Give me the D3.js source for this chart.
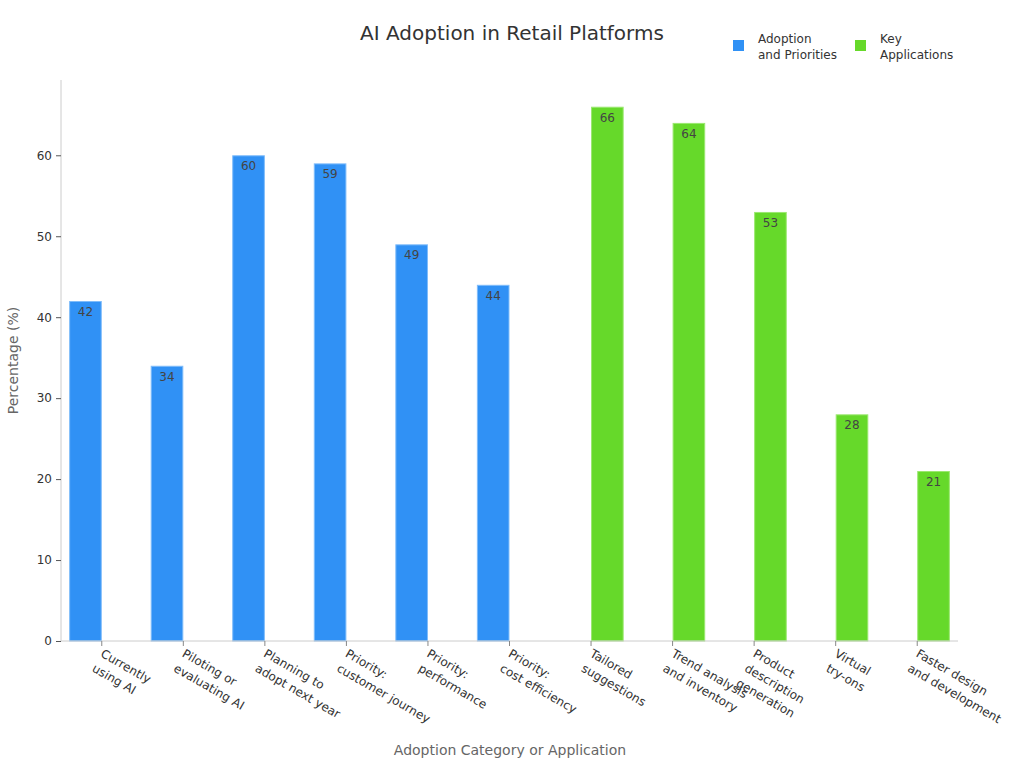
<!DOCTYPE html>
<html lang="en">
<head>
  <meta charset="UTF-8">
  <title>AI Adoption in Retail Platforms</title>
  <script src="https://d3js.org/d3.v7.min.js"></script>
  <style>
    body { margin: 0; font-family: "DejaVu Sans", sans-serif; background: #fff; }
    .axis text { fill: #333; font-size: 12px; font-family: "DejaVu Sans", sans-serif; }
  </style>
</head>
<body>
<svg width="1024" height="768"></svg>

<script>
  const categories = [
    "Currently\nusing AI", "Piloting or\nevaluating AI", "Planning to\nadopt next year",
    "Priority:\ncustomer journey", "Priority:\nperformance", "Priority:\ncost efficiency",
    "Tailored\nsuggestions", "Trend analysis\nand inventory", "Product\ndescription\ngeneration",
    "Virtual\ntry-ons", "Faster design\nand development"
  ];
  const seriesNames = ["Adoption\nand Priorities", "Key\nApplications"];
  const adoptionValues = [42, 34, 60, 59, 49, 44, null, null, null, null, null];
  const applicationValues = [null, null, null, null, null, null, 66, 64, 53, 28, 21];
  const yTicks = [0, 10, 20, 30, 40, 50, 60];

  const colors = ["#3091f5", "#66d92a"];
  const strokes = ["#7fbcfa", "#9be870"];

  const svg = d3.select("svg"),
        margin = {top: 80, right: 66, bottom: 127, left: 61},
        width = 1024 - margin.left - margin.right,
        height = 768 - margin.top - margin.bottom,
        g = svg.append("g").attr("transform", `translate(${margin.left},${margin.top})`);

  const rows = categories.map((c, i) => ({ cat: c, vals: [adoptionValues[i], applicationValues[i]] }));

  const x = d3.scaleBand().domain(categories).range([0, width]).padding(0);
  const x1 = d3.scaleBand().domain([0, 1]).range([0, x.bandwidth()]).paddingInner(0).paddingOuter(0.25);
  const y = d3.scaleLinear().domain([0, 66 * 1.05]).range([height, 0]);

  // bars
  const groups = g.append("g").selectAll("g")
    .data(rows).join("g")
      .attr("transform", d => `translate(${x(d.cat)},0)`);

  const bars = groups.selectAll("g.bar")
    .data(d => d.vals.map((v, k) => ({ v, k })).filter(e => e.v != null))
    .join("g").attr("class", "bar");

  bars.append("rect")
    .attr("x", d => x1(d.k) + 0.5)
    .attr("y", d => y(d.v) + 0.5)
    .attr("width", x1.bandwidth() - 1)
    .attr("height", d => y(0) - y(d.v) - 0.5)
    .attr("fill", d => colors[d.k])
    .attr("stroke", d => strokes[d.k])
    .attr("stroke-width", 1);

  bars.append("text")
    .attr("x", d => x1(d.k) + x1.bandwidth() / 2)
    .attr("y", d => y(d.v) + 15)
    .attr("text-anchor", "middle")
    .attr("font-size", 12)
    .attr("fill", "#444")
    .text(d => d.v);

  // y axis
  const yAxis = g.append("g").attr("class", "axis")
    .call(d3.axisLeft(y).tickValues(yTicks).tickSize(5).tickPadding(4));
  yAxis.select(".domain").attr("stroke", "#ccc");
  yAxis.selectAll(".tick line").attr("stroke", "#555");
  yAxis.select(".domain").attr("d", `M0,${height}V0`);

  // x axis
  const xAxis = g.append("g").attr("class", "axis")
    .attr("transform", `translate(0,${height})`)
    .call(d3.axisBottom(x).tickSize(5).tickFormat(""));
  xAxis.select(".domain").attr("stroke", "#ccc").attr("d", `M0,0H${width}`);
  xAxis.selectAll(".tick line").attr("stroke", "#888");

  xAxis.selectAll(".tick").append("text")
    .attr("transform", "translate(-2,15) rotate(30)")
    .attr("text-anchor", "start")
    .attr("fill", "#333")
    .each(function(d) {
      const lines = d.split("\n");
      d3.select(this).selectAll("tspan").data(lines).join("tspan")
        .attr("x", 0)
        .attr("dy", (l, i) => i === 0 ? 0 : 17)
        .text(l => l);
    });

  // titles
  svg.append("text")
    .attr("x", 512).attr("y", 40)
    .attr("text-anchor", "middle")
    .attr("font-size", 20)
    .attr("fill", "#333")
    .text("AI Adoption in Retail Platforms");

  svg.append("text")
    .attr("x", 510).attr("y", 755)
    .attr("text-anchor", "middle")
    .attr("font-size", 14)
    .attr("fill", "#666")
    .text("Adoption Category or Application");

  svg.append("text")
    .attr("transform", `translate(18,${margin.top + height / 2}) rotate(-90)`)
    .attr("text-anchor", "middle")
    .attr("font-size", 14)
    .attr("fill", "#666")
    .text("Percentage (%)");

  // legend
  const legendX = [733, 855];
  const legend = svg.append("g").selectAll("g")
    .data(seriesNames).join("g")
      .attr("transform", (d, i) => `translate(${legendX[i]},40)`);
  legend.append("rect")
    .attr("width", 11).attr("height", 11)
    .attr("fill", (d, i) => colors[i]);
  legend.append("text")
    .attr("font-size", 12)
    .attr("fill", "#333")
    .selectAll("tspan").data(d => d.split("\n")).join("tspan")
      .attr("x", 25)
      .attr("y", (l, i) => 3 + i * 16)
      .text(l => l);
</script>
</body>
</html>
